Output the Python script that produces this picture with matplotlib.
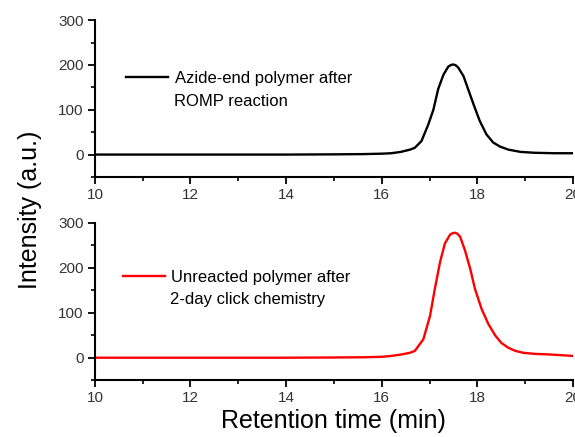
import matplotlib
matplotlib.use("Agg")
import matplotlib.pyplot as plt
from matplotlib.ticker import MultipleLocator

plt.rcParams['font.family'] = ['Liberation Sans', 'DejaVu Sans']

# values (retention time in min, intensity in a.u.)
t_top = [10.0, 12.0, 14.0, 15.0, 15.6, 16.0, 16.2, 16.4, 16.59, 16.69, 16.83, 16.97,
         17.08, 17.18, 17.29, 17.39, 17.45, 17.5, 17.55, 17.6, 17.71, 17.81, 17.92,
         18.05, 18.19, 18.33, 18.47, 18.65, 18.9, 19.2, 19.6, 20.0]
i_top = [0, 0, 0, 0.5, 1, 2, 3, 6, 11, 15, 30, 66,
         100, 146, 178, 196, 200, 201, 199, 194, 175, 145, 112,
         75, 45, 27, 18, 11, 6, 4, 3, 3]

t_bot = [10.0, 12.0, 14.0, 15.0, 15.6, 16.0, 16.2, 16.4, 16.59, 16.69, 16.87, 17.01,
         17.11, 17.22, 17.32, 17.43, 17.48, 17.53, 17.58, 17.64, 17.74, 17.85, 17.95,
         18.09, 18.23, 18.37, 18.5, 18.65, 18.8, 18.96, 19.2, 19.45, 19.7, 20.0]
i_bot = [0, 0, 0, 0.5, 1, 2, 4, 7, 11, 15, 41, 93,
         153, 213, 254, 274, 277, 278, 276, 269, 239, 198, 153,
         108, 75, 50, 33, 22, 15, 11, 8.5, 7.5, 6, 4]

labels = [("Azide-end polymer after", "ROMP reaction"),
          ("Unreacted polymer after", "2-day click chemistry")]
colors = ["black", "#ff0000"]
# legend anchor (axes fraction) per panel
leg_pos = [(0.065, 0.63, 0.165, 0.483), (0.058, 0.655, 0.158, 0.513)]

fig = plt.figure(figsize=(5.75, 4.37), dpi=100)
ax1 = fig.add_axes([0.165, 0.595, 0.8315, 0.359])
ax2 = fig.add_axes([0.165, 0.130, 0.8315, 0.360])

for ax, t, y, lab, c, pos in [(ax1, t_top, i_top, labels[0], colors[0], leg_pos[0]),
                              (ax2, t_bot, i_bot, labels[1], colors[1], leg_pos[1])]:
    ax.plot(t, y, color=c, lw=1.7, label=lab[0], solid_joinstyle='round')
    ax.set_xlim(10, 20)
    ax.set_ylim(-50, 300)
    ax.spines['top'].set_visible(False)
    ax.spines['right'].set_visible(False)
    for s in ('left', 'bottom'):
        ax.spines[s].set_linewidth(1.5)
    ax.xaxis.set_major_locator(MultipleLocator(2))
    ax.xaxis.set_minor_locator(MultipleLocator(1))
    ax.yaxis.set_major_locator(MultipleLocator(100))
    ax.yaxis.set_minor_locator(MultipleLocator(50))
    ax.tick_params(which='major', length=5, width=1.3, labelsize=11,
                   labelcolor='#333333', pad=3)
    ax.tick_params(which='minor', length=3, width=1.2)
    ax.legend(loc='center left', bbox_to_anchor=(pos[0], pos[1]), frameon=False,
              fontsize=12, handlelength=2.55, handletextpad=0.38,
              borderaxespad=0, borderpad=0)
    ax.text(pos[2], pos[3], lab[1], transform=ax.transAxes, fontsize=12,
            va='center', ha='left')

ax2.set_xlabel("Retention time (min)", fontsize=18, labelpad=3)
fig.text(0.052, 0.519, "Intensity (a.u.)", rotation=90, fontsize=18,
         ha='center', va='center')

fig.savefig("out.png", dpi=100)
